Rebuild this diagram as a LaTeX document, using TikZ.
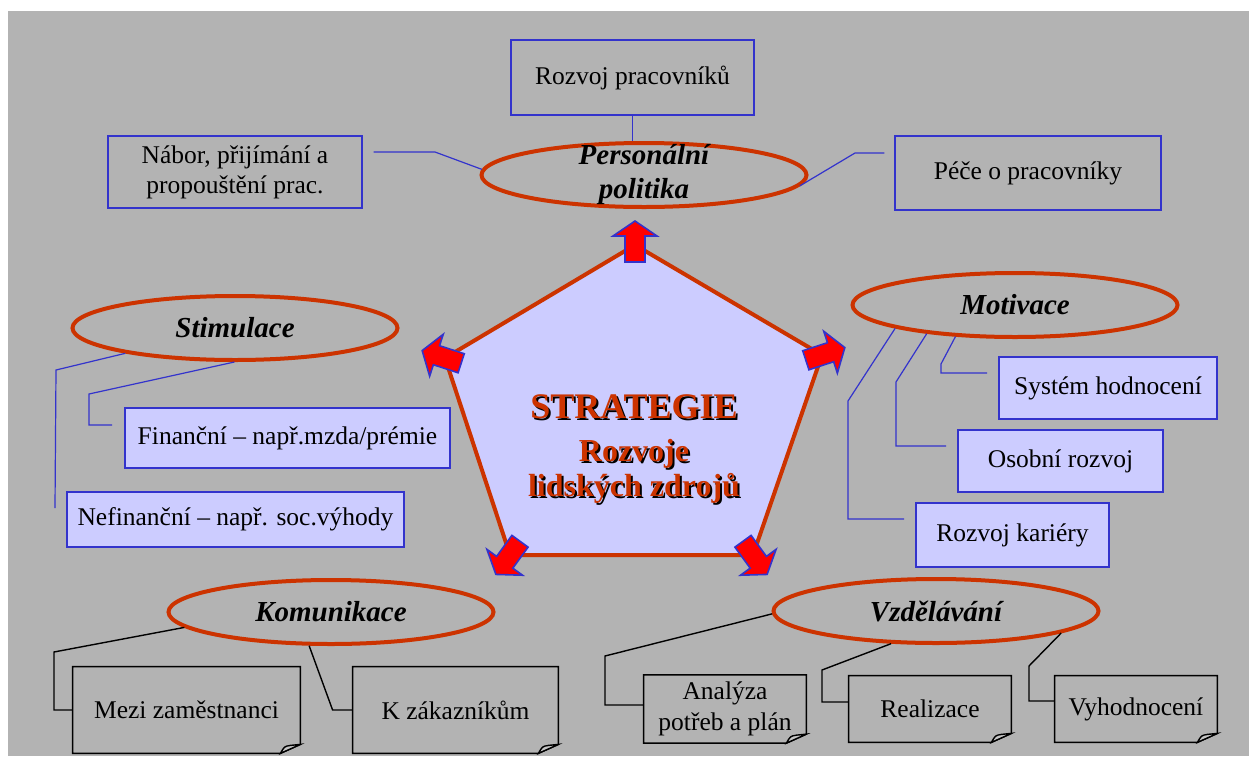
\documentclass[tikz,border=0pt]{standalone}
\usepackage{fontspec}
\setmainfont{Liberation Serif}
\usetikzlibrary{shapes.geometric, arrows.meta, positioning}
\definecolor{bggray}{HTML}{B3B3B3}
\definecolor{lav}{HTML}{CCCCFF}
\definecolor{rust}{HTML}{CC3300}
\definecolor{lineblue}{HTML}{3333CC}
\newcommand{\shadowed}[1]{\rlap{\kern1pt\raisebox{-1pt}{\color{black}#1}}#1}
\newcommand{\dogear}[1]{%
  \draw[blackline] (#1.north west) -- (#1.north east) -- ([yshift=4.5pt]#1.south east)
    -- ([xshift=-10pt]#1.south east) -- (#1.south west) -- cycle;
  \draw[blackline, fill=bggray!75!white] ([xshift=-10pt]#1.south east)
    .. controls ([xshift=-8pt,yshift=3.5pt]#1.south east) .. ([xshift=-5pt,yshift=4pt]#1.south east)
    -- ([yshift=4.5pt]#1.south east) -- cycle;}
\tikzset{
  topic/.style = {ellipse, draw=rust, line width=2pt, inner sep=0pt, minimum width=162.5pt, minimum height=32pt, align=center, font=\fontsize{14.5}{17}\selectfont\bfseries\itshape},
  plainbox/.style = {rectangle, draw=lineblue, line width=0.7pt, align=center, font=\fontsize{12.75}{15}\selectfont},
  softbox/.style = {rectangle, draw=lineblue, line width=1pt, fill=lav, align=center, font=\fontsize{12.75}{15}\selectfont},
  notebox/.style = {rectangle, align=center, minimum width=81pt, minimum height=33pt, font=\fontsize{12.75}{15.5}\selectfont},
  blueline/.style = {draw=lineblue, line width=0.6pt},
  blackline/.style = {draw=black, line width=0.7pt},
  fatarrow/.style = {fill=red, draw=lineblue, line width=0.8pt, line join=miter}
}

\begin{document}
\begin{tikzpicture}[x=0.5pt, y=-0.5pt]

\useasboundingbox (0,0) rectangle (1249,756);
\fill[bggray] (8,11) rectangle (1249,756);

% Centre pentagon
\coordinate (ptop) at (635,245);
\coordinate (plft) at (445,358);
\coordinate (prgt) at (822,355);
\coordinate (pblft) at (510,555);
\coordinate (pbrgt) at (753,555);
\draw[draw=rust, line width=2pt, fill=lav, line join=miter] (ptop) -- (prgt) -- (pbrgt) -- (pblft) -- (plft) -- cycle;

\foreach \v/\a in {ptop/90, plft/162, prgt/18, pblft/234, pbrgt/306}
  \draw[fatarrow, shift={(\v)}, rotate=\a] (-17,-10) -- (9,-10) -- (9,-22) -- (24,0) -- (9,22) -- (9,10) -- (-17,10) -- cycle;

\node[align=center, text=rust, font=\fontsize{16}{17.5}\selectfont\bfseries] (core) at (634,450)
  {{\fontsize{18}{21}\selectfont\shadowed{STRATEGIE}}\\[4pt] \shadowed{Rozvoje}\\ \shadowed{lidských zdrojů}};

% Ellipses
\node[topic, inner ysep=-8pt] (persn) at (644,175) {Personální\\ politika};
\node[topic] (stim) at (235,328) {Stimulace};
\node[topic] (motiv) at (1015,305) {Motivace};
\node[topic] (komun) at (331,612) {Komunikace};
\node[topic] (vzdel) at (936,611) {Vzdělávání};

% Top boxes
\node[plainbox, minimum width=121.5pt, minimum height=37.5pt] (rozvoj) at (632.5,77.5) {Rozvoj pracovníků};
\node[plainbox, minimum width=127pt, minimum height=36pt] (nabor) at (235,172) {Nábor, přijímání a\\ propouštění prac.};
\node[plainbox, minimum width=133pt, minimum height=37pt] (pece) at (1028,173) {Péče o pracovníky};

% Left boxes
\node[softbox, minimum width=162.5pt, minimum height=30pt] (fin) at (287.5,438) {Finanční -- např.mzda/prémie};
\node[softbox, minimum width=168.5pt, minimum height=27.5pt] (nefin) at (235.5,519.5) {Nefinanční -- např. soc.výhody};

% Right boxes
\node[softbox, minimum width=109pt, minimum height=31pt] (sys) at (1108,388) {Systém hodnocení};
\node[softbox, minimum width=102.5pt, minimum height=31pt] (oso) at (1060.5,461) {Osobní rozvoj};
\node[softbox, minimum width=96.5pt, minimum height=32pt] (kar) at (1012.5,535) {Rozvoj kariéry};

% Bottom boxes
\node[notebox, minimum width=113.5pt, minimum height=43pt] (mezi) at (186.5,710) {Mezi zaměstnanci};
\node[notebox, minimum width=102.5pt, minimum height=43pt] (kzak) at (455.5,710) {K zákazníkům};
\node[notebox] (anal) at (725,709) {Analýza\\ potřeb a plán};
\node[notebox] (real) at (930,709) {Realizace};
\node[notebox] (vyh) at (1136,709) {Vyhodnocení};
\foreach \b in {mezi, kzak, anal, real, vyh}
  {\dogear{\b}}

% Connectors
\draw[blueline] (rozvoj.south) -- (rozvoj.south |- persn.north);
\draw[blueline] (persn.178) -- (435,152) -- ([xshift=5.5pt,yshift=10pt]nabor.east);
\draw[blueline] (persn.-4.5) -- (855,153) -- ([xshift=-5pt,yshift=10pt]pece.west);

\draw[blueline] (stim.-91) -- (89,394) |- ([xshift=-6pt,yshift=6.5pt]fin.west);
\draw[blueline] (stim.193) -- (56,370) -- ([xshift=-5.5pt,yshift=5.75pt]nefin.west);

\draw[blueline] (motiv.208) -- (941,364) |- ([xshift=-5.5pt,yshift=7.5pt]sys.west);
\draw[blueline] (motiv.198.6) -- (896,382) |- ([xshift=-5.5pt,yshift=7.5pt]oso.west);
\draw[blueline] (motiv.191.5) -- (848,401) |- ([xshift=-5.5pt,yshift=8pt]kar.west);

\draw[blackline] (komun.186) -- (54,652) |- (mezi.west);
\draw[blackline] (komun.237) -- ([xshift=-10pt]kzak.west) -- (kzak.west);

\draw[blackline] (vzdel.181) -- (605,656) |- ([yshift=2pt]anal.west);
\draw[blackline] (vzdel.216) -- (822,670) |- ([yshift=3.5pt]real.west);
\draw[blackline] (vzdel.-10) -- (1029,666) |- ([yshift=4pt]vyh.west);

\end{tikzpicture}
\end{document}
